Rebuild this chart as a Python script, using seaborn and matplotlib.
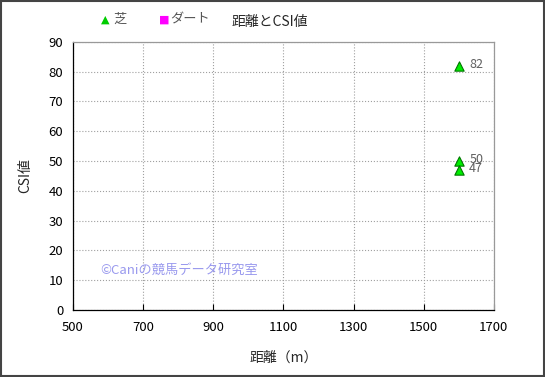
import matplotlib
matplotlib.use('Agg')
import matplotlib.pyplot as plt
import seaborn as sns
import pandas as pd

# data
distance = [1600, 1600, 1600]
csi = [82, 50, 47]
surface = ['芝', '芝', '芝']

df = pd.DataFrame({'距離': distance, 'CSI': csi, 'surface': surface})

sns.set_style('white')
plt.rcParams['font.family'] = ['Noto Sans CJK JP', 'DejaVu Sans']

fig = plt.figure(figsize=(5.45, 3.77), dpi=100)
ax = fig.add_axes([0.134, 0.178, 0.772, 0.711])

sns.scatterplot(data=df, x='距離', y='CSI', marker='^', s=45, color='#00ee00',
                edgecolor='#007700', linewidth=0.8, ax=ax, legend=False, zorder=3)

for x, y in zip(distance, csi):
    ax.text(x + 30, y + 0.5, str(y), fontsize=9, color='#606060', va='center', ha='left')

ax.set_xlim(500, 1700)
ax.set_ylim(0, 90)
ax.set_xticks(range(500, 1701, 200))
ax.set_yticks(range(0, 91, 10))
ax.tick_params(axis='x', labelsize=9.5, colors='black', length=4, direction='in', bottom=True, pad=8)
ax.tick_params(axis='y', labelsize=9.5, colors='black', length=0, left=True, pad=7)
ax.grid(True, linestyle=':', color='#a0a0a0', linewidth=0.8)
for s in ['left', 'bottom']:
    ax.spines[s].set_color('black')
    ax.spines[s].set_linewidth(0.9)
for s in ['top', 'right']:
    ax.spines[s].set_color('#999999')
    ax.spines[s].set_linewidth(0.9)

ax.set_xlabel('距離（m）', fontsize=10, labelpad=12)
ax.set_ylabel('CSI値', fontsize=10, labelpad=12)

fig.text(0.495, 0.942, '距離とCSI値', fontsize=10, ha='center', va='center')

# legend
fig.text(0.185, 0.948, '▲', fontsize=8, color='#00cc00', ha='left', va='center', family=['DejaVu Sans'])
fig.text(0.208, 0.948, '芝', fontsize=9.5, color='#555555', ha='left', va='center')
fig.text(0.292, 0.948, '■', fontsize=8, color='#ff00ff', ha='left', va='center', family=['DejaVu Sans'])
fig.text(0.313, 0.948, 'ダート', fontsize=9.5, color='#555555', ha='left', va='center')

ax.text(0.064, 0.149, '©Caniの競馬データ研究室', transform=ax.transAxes, fontsize=9.5,
        color='#9999ee', ha='left', va='center')

fig.patches.append(plt.Rectangle((0.002, 0.003), 0.996, 0.994, transform=fig.transFigure,
                                 fill=False, edgecolor='#444444', linewidth=1.5))

fig.savefig('out.png', dpi=100)
